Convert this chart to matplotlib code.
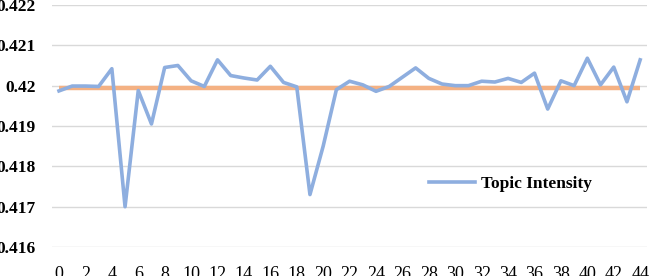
import matplotlib
matplotlib.use("Agg")
import matplotlib.pyplot as plt

# Topic intensity per time slice
zeit = list(range(45))
intensitaet = [0.41987, 0.41999, 0.41999, 0.41998, 0.42042, 0.41700, 0.41988, 0.41905,
               0.42045, 0.42050, 0.42012, 0.41998, 0.42064, 0.42025, 0.42019, 0.42014,
               0.42048, 0.42008, 0.41997, 0.41730, 0.41850, 0.41990, 0.42011, 0.42002,
               0.41986, 0.41998, 0.42021, 0.42044, 0.42018, 0.42004, 0.42000, 0.42000,
               0.42011, 0.42009, 0.42018, 0.42008, 0.42031, 0.41942, 0.42012, 0.42000,
               0.42068, 0.42002, 0.42046, 0.41960, 0.42064]
mittelwert = [0.41993] * len(zeit)
y_ticks = [0.416, 0.417, 0.418, 0.419, 0.42, 0.421, 0.422]
y_labels = ["0.416", "0.417", "0.418", "0.419", "0.42", "0.421", "0.422"]
x_ticks = list(range(0, 45, 2))

plt.rcParams['font.family'] = ['Liberation Serif', 'DejaVu Serif']

fig = plt.figure(figsize=(6.51, 2.76), dpi=100)
ax = fig.add_axes([0.0805, 0.105, 0.913, 0.877])

ax.plot(zeit, mittelwert, color="#F4B183", linewidth=3.2, solid_capstyle="butt", zorder=2)
ax.plot(zeit, intensitaet, color="#8EAEDF", linewidth=2.6, label="Topic Intensity", zorder=3)

ax.set_xlim(-0.5, 44.5)
ax.set_ylim(0.416, 0.422)
ax.set_yticks(y_ticks)
ax.set_yticklabels(y_labels, fontweight="bold", fontsize=12.5)
ax.set_xticks(x_ticks)
ax.set_xticklabels([str(x) for x in x_ticks], fontsize=13)
ax.tick_params(axis="both", length=0)
ax.tick_params(axis="y", pad=12)
ax.tick_params(axis="x", pad=13.5)
ax.grid(axis="y", color="#D9D9D9", linewidth=1.0, zorder=0)
for s in ax.spines.values():
    s.set_visible(False)

leg = ax.legend(loc="center", bbox_to_anchor=(0.770, 0.262), frameon=False,
                prop={"weight": "bold", "size": 12.5}, handlelength=2.7, handletextpad=0.3)

plt.savefig("out.png", dpi=100)
plt.close()
